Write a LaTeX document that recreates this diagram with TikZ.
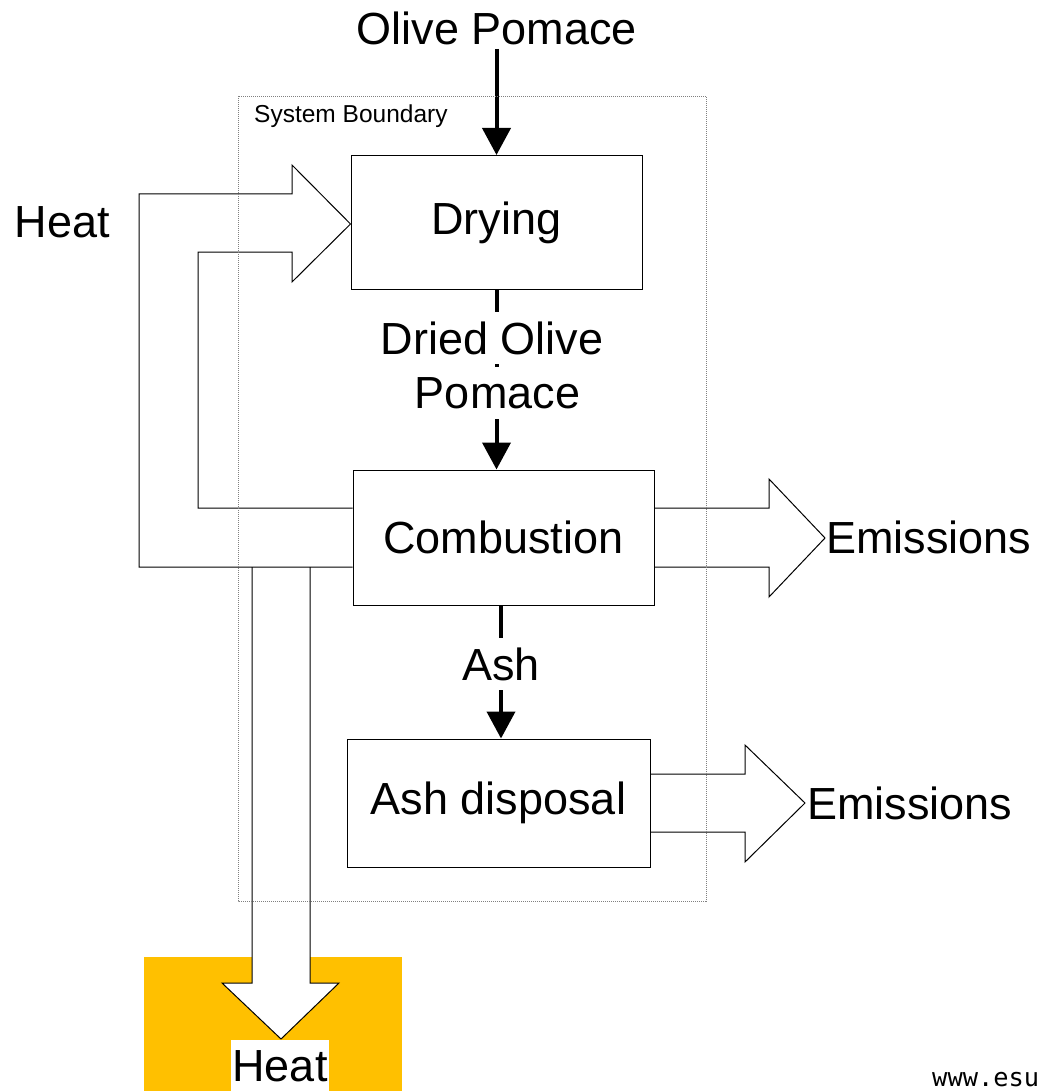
\documentclass[tikz,border=0pt]{standalone}
\usepackage{fontspec}
\setmainfont{Liberation Sans}
\newfontfamily\webfont{DejaVu Sans Mono}
\usetikzlibrary{arrows.meta}
\definecolor{heatgold}{RGB}{255,192,0}

\begin{document}
\begin{tikzpicture}[x=1pt,y=-1pt,
  big/.style={font=\fontsize{45}{54}\selectfont},
  stepbox/.style={draw,line width=1pt,big,inner sep=0pt},
  flow/.style={draw,line width=1pt,line join=miter},
  mass/.style={line width=4pt,-{Triangle[length=27pt,width=28pt]}},
  onflow/.style={big,fill=white,inner sep=0pt,minimum height=52pt}]
\useasboundingbox (0,0) rectangle (1043,1091);
\fill[heatgold] (144,957) rectangle (402,1091);
\node[stepbox,minimum width=291pt,minimum height=134pt] (drying) at (496.5,222.5) {Drying};
\node[stepbox,minimum width=301pt,minimum height=135pt] (combustion) at (503.5,537.5) {Combustion};
\node[stepbox,minimum width=303pt,minimum height=128pt] (ashdisp) at (498.5,803) {Ash disposal};
\node[big,anchor=base] (pomace) at (497,45) {Olive Pomace};
\node[big] (heatin) at (62.5,222) {Heat};
\node[big,anchor=west,inner sep=0pt] (emis1) at (826,537) {Emissions};
\node[big,anchor=west,inner sep=0pt] (emis2) at (807,803) {Emissions};
\draw[mass] (drying.north |- pomace.south) -- (drying.north);
\draw[mass] (drying.south) -- (drying.south |- combustion.north);
\draw[mass] (combustion.south -| 501,0) -- (ashdisp.north -| 501,0);
\node[onflow] (dried1) at (492,338) {Dried Olive};
\node[onflow] (dried2) at (497.5,393) {Pomace};
\node[onflow] (ash) at (501,664) {Ash};
\filldraw[flow,fill=white] (252,567) -- (252,983) -- (222,983) -- (281,1039) -- (339,983) -- (310,983) -- (310,567);
\draw[flow] (combustion.west |- 0,567) -- (139,567) -- (139,194) -- (292,194) -- (292,165)
  -- (drying.west |- 0,224) -- (292,282) -- (292,252) -- (198,252) -- (198,508) -- (combustion.west |- 0,508);
\draw[flow] (combustion.east |- 0,508) -- (769,508) -- (769,479) -- (825,538) -- (769,597) -- (769,567) -- (combustion.east |- 0,567);
\draw[flow] (ashdisp.east |- 0,774) -- (745,774) -- (745,745) -- (805,803) -- (745,862) -- (745,832) -- (ashdisp.east |- 0,832);
\node[big,fill=white,inner sep=1pt,minimum height=52pt] (heatout) at (280,1066) {Heat};
\draw[gray,line width=0.8pt,dash pattern=on 1pt off 1pt] (238,96) rectangle (706,901);
\node[font=\fontsize{24.5}{29}\selectfont,anchor=base west,inner sep=0pt] (boundary) at (254,123) {System Boundary};
\node[font=\webfont\fontsize{25.4}{30}\selectfont,anchor=base west,inner sep=0pt] (web) at (932,1086) {www.esu};
\end{tikzpicture}
\end{document}
